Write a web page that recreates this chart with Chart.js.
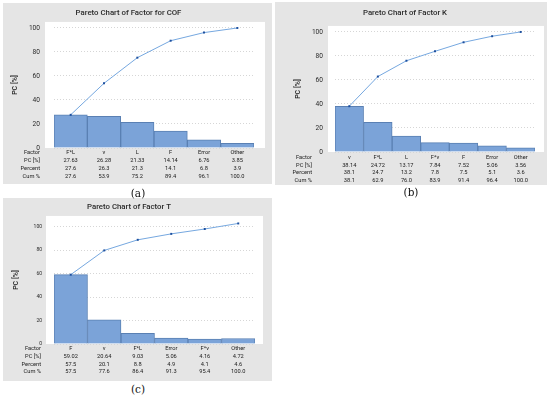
<!DOCTYPE html>
<html><head><meta charset="utf-8">
<script src="https://cdn.jsdelivr.net/npm/chart.js@4"></script>
<style>
html,body{margin:0;padding:0;background:#fff;width:550px;height:397px;overflow:hidden;position:relative;font-family:Roboto,sans-serif}
.panel{position:absolute;background:#e5e5e5}
.cap{position:absolute;font-family:"DejaVu Serif","Liberation Serif",serif;font-size:10.5px;line-height:12px;color:#111;transform:translateX(-50%)}
</style></head><body>
<div class="panel" style="left:3px;top:3px;width:269px;height:181px"><canvas id="ca"></canvas></div>
<div class="panel" style="left:275px;top:2px;width:272px;height:183px"><canvas id="cb"></canvas></div>
<div class="panel" style="left:3px;top:198px;width:269px;height:183px"><canvas id="cc"></canvas></div>
<div class="cap" style="left:138px;top:187px">(a)</div>
<div class="cap" style="left:411px;top:186px">(b)</div>
<div class="cap" style="left:138px;top:383px">(c)</div>
<script>
const rowHeaders = ['Factor','PC [%]','Percent','Cum %'];
const yTicks = [0,20,40,60,80,100];

const factorsA = ['F*L','v','L','F','Error','Other'];
const pcA = [27.63,26.28,21.33,14.14,6.76,3.85];
const percentA = [27.6,26.3,21.3,14.1,6.8,3.9];
const cumPctA = [27.6,53.9,75.2,89.4,96.1,100.0];
const cumPcA = [27.63,53.91,75.24,89.38,96.14,99.99];

const factorsB = ['v','F*L','L','F*v','F','Error','Other'];
const pcB = [38.14,24.72,13.17,7.84,7.52,5.06,3.56];
const percentB = [38.1,24.7,13.2,7.8,7.5,5.1,3.6];
const cumPctB = [38.1,62.9,76.0,83.9,91.4,96.4,100.0];
const cumPcB = [38.14,62.86,76.03,83.87,91.39,96.45,100.01];

const factorsC = ['F','v','F*L','Error','F*v','Other'];
const pcC = [59.02,20.64,9.03,5.06,4.16,4.72];
const percentC = [57.5,20.1,8.8,4.9,4.1,4.6];
const cumPctC = [57.5,77.6,86.4,91.3,95.4,100.0];
const cumPcC = [59.02,79.66,88.69,93.75,97.91,102.63];

const FAM = "Roboto, 'Open Sans', sans-serif";

const bgPlugin = {
  id: 'paretoBg',
  beforeDraw(chart, args, o) {
    const {ctx, chartArea: a} = chart;
    ctx.save();
    ctx.fillStyle = '#ffffff';
    ctx.fillRect(a.left - o.ml, a.top, a.width + o.ml + o.mr, a.bottom - a.top);
    ctx.restore();
  },
  afterDraw(chart, args, o) {
    const {ctx} = chart;
    const xs = chart.scales.x;
    const lh = o.tabSize * o.tabLH;
    ctx.save();
    ctx.fillStyle = '#1a1a1a';
    ctx.font = o.tabSize + 'px ' + FAM;
    ctx.textAlign = 'right';
    ctx.textBaseline = 'middle';
    rowHeaders.forEach((h, i) => {
      ctx.fillText(h, o.rowX, xs.top + o.tabPad + lh / 2 + i * lh);
    });
    ctx.restore();
  }
};

function makePareto(id, title, factors, pc, pct, cum, cumLine, L) {
  const labels = factors.map((f, i) => [f, pc[i].toFixed(2), pct[i].toFixed(1), cum[i].toFixed(1)]);
  return new Chart(document.getElementById(id), {
    type: 'bar',
    data: {
      labels,
      datasets: [
        {type: 'line', data: cumLine, borderColor: '#76a8e0', borderWidth: 1, pointStyle: 'rect',
         pointRadius: 1.4, pointBackgroundColor: '#1d4f9e', pointBorderColor: '#1d4f9e', pointBorderWidth: 0,
         tension: 0, order: 0},
        {type: 'bar', data: pc, backgroundColor: '#7ba3d8', borderColor: '#5a80b3', borderWidth: 1,
         barPercentage: 1, categoryPercentage: 1, order: 1}
      ]
    },
    options: {
      responsive: true, maintainAspectRatio: false, animation: false,
      layout: {padding: {left: 0, right: L.padR, top: 0, bottom: 0}},
      plugins: {
        legend: {display: false}, tooltip: {enabled: false},
        title: {display: true, text: title, color: '#2a2a2a',
                font: {family: FAM, size: L.titleSize, weight: '500', lineHeight: 1.2},
                padding: {top: L.tt, bottom: L.tb}},
        paretoBg: {ml: L.ml, mr: L.mr, rowX: L.rowX, tabSize: L.tabSize, tabLH: L.tabLH, tabPad: L.tabPad}
      },
      scales: {
        x: {
          grid: {display: false, drawTicks: false}, border: {display: false},
          ticks: {color: '#1a1a1a', font: {family: FAM, size: L.tabSize, lineHeight: L.tabLH},
                  padding: L.tabPad, maxRotation: 0, minRotation: 0, autoSkip: false},
          afterFit: s => { s.height = L.xH; }
        },
        y: {
          min: 0, max: L.yMax,
          grid: {color: '#d6d6d6', lineWidth: 1, drawTicks: false},
          border: {display: false, dash: [1, 2]},
          ticks: {color: '#2a2a2a', font: {family: FAM, size: L.yTickSize}, padding: L.yTickPad},
          afterBuildTicks: s => { s.ticks = yTicks.map(v => ({value: v})); },
          afterFit: s => { s.width = L.yW; },
          title: {display: true, text: 'PC [%]', color: '#1a1a1a',
                  font: {family: FAM, size: 7, weight: '500', lineHeight: 1.2},
                  padding: {top: L.yTitlePad, bottom: 0}}
        }
      }
    },
    plugins: [bgPlugin]
  });
}

makePareto('ca', 'Pareto Chart of Factor for COF', factorsA, pcA, percentA, cumPctA, cumPcA,
  {padR: 18, yW: 51, xH: 36, titleSize: 7.8, tt: 5.3, tb: 4.3, yMax: 105,
   tabSize: 5.7, tabLH: 1.35, tabPad: 1.2, yTickSize: 6.6, yTickPad: 14, yTitlePad: 7.8,
   rowX: 37, ml: 9, mr: 11});

makePareto('cb', 'Pareto Chart of Factor K', factorsB, pcB, percentB, cumPctB, cumPcB,
  {padR: 12, yW: 60, xH: 33, titleSize: 7.8, tt: 6.3, tb: 8.3, yMax: 105,
   tabSize: 5.7, tabLH: 1.35, tabPad: 1.65, yTickSize: 6.6, yTickPad: 12, yTitlePad: 19.3,
   rowX: 37, ml: 7, mr: 9});

makePareto('cc', 'Pareto Chart of Factor T', factorsC, pcC, percentC, cumPctC, cumPcC,
  {padR: 17, yW: 51, xH: 37, titleSize: 7.8, tt: 4.3, tb: 4.3, yMax: 109,
   tabSize: 5.7, tabLH: 1.33, tabPad: 1.2, yTickSize: 5, yTickPad: 12, yTitlePad: 9.3,
   rowX: 38, ml: 8, mr: 8});
</script>
</body></html>
